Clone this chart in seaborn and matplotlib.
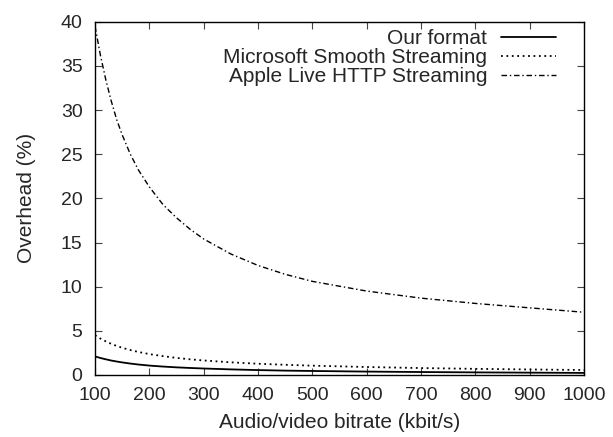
import matplotlib
matplotlib.use("Agg")
import matplotlib.pyplot as plt
import seaborn as sns
import pandas as pd

bitrate = [100, 110, 120, 130, 140, 150, 165, 180, 200, 225, 250, 275, 300, 350, 400, 450, 500, 600, 700, 800, 900, 1000]
our_format = [2.1, 1.92, 1.77, 1.63, 1.52, 1.42, 1.29, 1.18, 1.06, 0.95, 0.86, 0.79, 0.73, 0.63, 0.55, 0.49, 0.45, 0.38, 0.33, 0.29, 0.26, 0.23]
ms_smooth = [4.5, 4.12, 3.8, 3.52, 3.28, 3.08, 2.82, 2.6, 2.36, 2.13, 1.93, 1.77, 1.64, 1.43, 1.27, 1.15, 1.05, 0.9, 0.78, 0.69, 0.62, 0.56]
apple_hls = [39.5, 36.2, 33.4, 31.0, 28.9, 27.2, 25.0, 23.2, 21.3, 19.3, 17.8, 16.5, 15.4, 13.7, 12.4, 11.4, 10.6, 9.5, 8.7, 8.1, 7.6, 7.1]
series_names = ["Our format", "Microsoft Smooth Streaming", "Apple Live HTTP Streaming"]

df = pd.DataFrame({
    "bitrate": bitrate * 3,
    "overhead": our_format + ms_smooth + apple_hls,
    "series": [series_names[0]] * len(bitrate) + [series_names[1]] * len(bitrate) + [series_names[2]] * len(bitrate),
})

sns.set_theme(style="ticks")
plt.rcParams["font.family"] = ["Liberation Sans", "DejaVu Sans"]

fig = plt.figure(figsize=(6.13, 4.37), dpi=100)
ax = fig.add_axes([0.155, 0.142, 0.798, 0.808])

styles = {series_names[0]: "-", series_names[1]: (0, (1, 2)), series_names[2]: (0, (4, 2, 1, 2))}
widths = {series_names[0]: 1.3, series_names[1]: 1.3, series_names[2]: 1.0}
for name in series_names:
    sub = df[df["series"] == name]
    sns.lineplot(data=sub, x="bitrate", y="overhead", ax=ax, color="black",
                 linestyle=styles[name], linewidth=widths[name], label=name)

ax.set_xlim(100, 1000)
ax.set_ylim(0, 40)
ax.set_xticks(range(100, 1001, 100))
ax.set_yticks(range(0, 41, 5))
ax.set_xlabel("Audio/video bitrate (kbit/s)", fontsize=15, labelpad=6)
ax.set_ylabel("Overhead (%)", fontsize=15, labelpad=18)
ax.tick_params(direction="in", top=True, right=True, labelsize=14, length=5, width=0.8, color="#444444")
ax.tick_params(axis="x", pad=9)
ax.tick_params(axis="y", pad=9)
for s in ax.spines.values():
    s.set_linewidth(1.0)
    s.set_color("black")

leg = ax.legend(loc="upper right", frameon=False, markerfirst=False, fontsize=15,
                handlelength=2.64, borderaxespad=0.0, labelspacing=0.0, handletextpad=0.67,
                borderpad=0.0, bbox_to_anchor=(0.943, 0.98))
for t in leg.get_texts():
    t.set_ha("right")
leg._legend_box.align = "right"

fig.savefig("out.png", dpi=100)
